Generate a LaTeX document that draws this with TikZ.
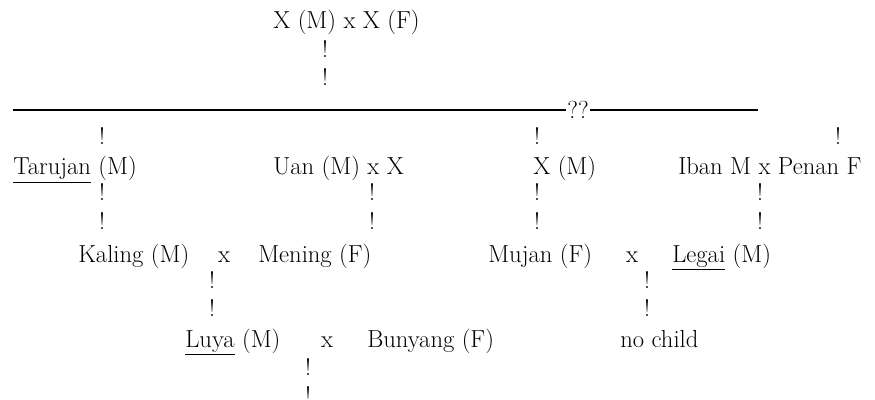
\documentclass[tikz,border=0pt]{standalone}
\usepackage{tikz}
\usetikzlibrary{positioning}

\begin{document}
\begin{tikzpicture}[x=0.025cm, y=-0.025cm,
      person/.style={anchor=base west, inner sep=0pt, font=\fontsize{17.5}{21}\selectfont},
      cross/.style={anchor=base, inner sep=0pt, font=\fontsize{17.5}{21}\selectfont},
      bang/.style={anchor=base, inner sep=0pt, font=\fontsize{17}{21}\selectfont},
      sibline/.style={line width=0.8pt}
    ]
      \useasboundingbox (0,0) rectangle (875,400);

      % parents
      \node[person] (parents) at (273,29) {X (M) x X (F)};
      \node[bang] (pa1) at (325,58) {!};
      \node[bang] (pa2) at (325,86) {!};

      % sibling line
      \coordinate (lineL) at (13,110);
      \coordinate (lineR) at (758,110);
      \node[cross, anchor=center, inner xsep=1pt] (qq) at (578,110) {??};
      \draw[sibline] (lineL) -- (qq.west);
      \draw[sibline] (qq.east) -- (lineR);

      \node[bang] (s1) at (102,145) {!};
      \node[bang] (s3) at (537,145) {!};
      \node[bang] (s4) at (838,145) {!};

      % second generation
      \node[person] (tarujan) at (13,175) {\underline{Tarujan} (M)};
      \node[person] (uan) at (273,175) {Uan (M) x X};
      \node[person] (xm) at (533,175) {X (M)};
      \node[person] (iban) at (678,175) {Iban M x Penan F};

      \node[bang] (t1) at (102,200) {!};
      \node[bang] (t2) at (102,230) {!};
      \node[bang] (u1) at (372,200) {!};
      \node[bang] (u2) at (372,230) {!};
      \node[bang] (x1) at (537,200) {!};
      \node[bang] (x2) at (537,230) {!};
      \node[bang] (i1) at (760,200) {!};
      \node[bang] (i2) at (760,230) {!};

      % third generation
      \node[person] (kaling) at (78,262) {Kaling (M)};
      \node[cross] (kx) at (224,262) {x};
      \node[person] (mening) at (258,262) {Mening (F)};
      \node[person] (mujan) at (488,262) {Mujan (F)};
      \node[cross] (mx) at (632,262) {x};
      \node[person] (legai) at (672,262) {\underline{Legai} (M)};

      \node[bang] (k1) at (212,288) {!};
      \node[bang] (k2) at (212,316) {!};
      \node[bang] (m1) at (647,288) {!};
      \node[bang] (m2) at (647,316) {!};

      % fourth generation
      \node[person] (luya) at (185,347) {\underline{Luya} (M)};
      \node[cross] (lx) at (327,347) {x};
      \node[person] (bunyang) at (367,347) {Bunyang (F)};
      \node[person] (nochild) at (620,347) {no child};

      \node[bang] (l1) at (308,375) {!};
      \node[bang] (l2) at (308,403) {!};
    \end{tikzpicture}
\end{document}
